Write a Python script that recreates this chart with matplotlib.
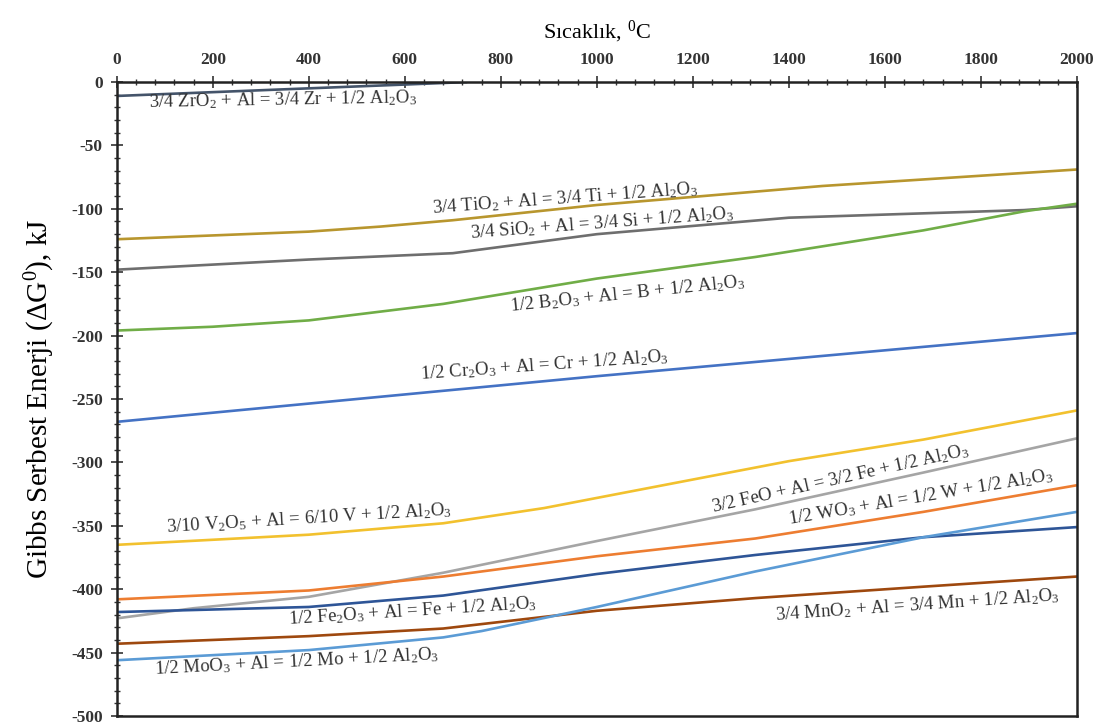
import matplotlib
matplotlib.use("Agg")
import matplotlib.pyplot as plt

plt.rcParams['font.family'] = ['Liberation Serif', 'DejaVu Serif']
plt.rcParams['mathtext.fontset'] = 'custom'
plt.rcParams['mathtext.rm'] = 'Liberation Serif'
plt.rcParams['mathtext.it'] = 'Liberation Serif:italic'
plt.rcParams['axes.unicode_minus'] = False

# Temperature (°C) / Gibbs free energy (kJ) per reaction
zr_T = [0, 200, 400, 600, 730]
zr_G = [-11, -8, -5, -2, 0]
ti_T = [0, 400, 550, 700, 1000, 1470, 2000]
ti_G = [-124, -118, -114, -109, -97, -82, -69]
si_T = [0, 400, 700, 1000, 1400, 1890, 2000]
si_G = [-148, -140, -135, -120, -107, -101, -98]
b_T = [0, 200, 400, 680, 1000, 1330, 1680, 1890, 2000]
b_G = [-196, -193, -188, -175, -155, -138, -117, -102, -96]
cr_T = [0, 500, 1000, 1500, 2000]
cr_G = [-268, -250, -232, -215, -198]
v_T = [0, 400, 680, 890, 1000, 1400, 1680, 2000]
v_G = [-365, -357, -348, -336, -328, -299, -282, -259]
feo_T = [0, 160, 400, 680, 1000, 1330, 1680, 2000]
feo_G = [-423, -415, -406, -387, -362, -337, -308, -281]
w_T = [0, 400, 680, 1000, 1330, 1680, 2000]
w_G = [-408, -401, -390, -374, -360, -339, -318]
fe2_T = [0, 400, 680, 1000, 1330, 1680, 2000]
fe2_G = [-418, -414, -405, -388, -373, -359, -351]
mn_T = [0, 400, 680, 1000, 1330, 1680, 2000]
mn_G = [-443, -437, -431, -417, -407, -398, -390]
mo_T = [0, 400, 680, 760, 1000, 1330, 1680, 2000]
mo_G = [-456, -448, -438, -433, -414, -386, -359, -339]

x_ticks = list(range(0, 2001, 200))
y_ticks = list(range(-500, 1, 50))

series = [
    (zr_T, zr_G, '#44546a', r'3/4 ZrO$_2$ + Al = 3/4 Zr + 1/2 Al$_2$O$_3$', 346, -14, 1),
    (ti_T, ti_G, '#b8962e', r'3/4 TiO$_2$ + Al = 3/4 Ti + 1/2 Al$_2$O$_3$', 933, -91.5, 4.2),
    (si_T, si_G, '#6e6e6e', r'3/4 SiO$_2$ + Al = 3/4 Si + 1/2 Al$_2$O$_3$', 1010, -111.5, 4.3),
    (b_T, b_G, '#70ad47', r'1/2 B$_2$O$_3$ + Al = B + 1/2 Al$_2$O$_3$', 1063, -167, 6),
    (cr_T, cr_G, '#4472c4', r'1/2 Cr$_2$O$_3$ + Al = Cr + 1/2 Al$_2$O$_3$', 890, -223, 4.1),
    (v_T, v_G, '#f2c12e', r'3/10 V$_2$O$_5$ + Al = 6/10 V + 1/2 Al$_2$O$_3$', 400, -344, 3.5),
    (feo_T, feo_G, '#a5a5a5', r'3/2 FeO + Al = 3/2 Fe + 1/2 Al$_2$O$_3$', 1506, -313, 12.6),
    (w_T, w_G, '#ed7d31', r'1/2 WO$_3$ + Al = 1/2 W + 1/2 Al$_2$O$_3$', 1675, -327, 9.5),
    (fe2_T, fe2_G, '#2e5597', r'1/2 Fe$_2$O$_3$ + Al = Fe + 1/2 Al$_2$O$_3$', 617, -417, 3.7),
    (mn_T, mn_G, '#9e480e', r'3/4 MnO$_2$ + Al = 3/4 Mn + 1/2 Al$_2$O$_3$', 1667, -413, 4),
    (mo_T, mo_G, '#5b9bd5', r'1/2 MoO$_3$ + Al = 1/2 Mo + 1/2 Al$_2$O$_3$', 375, -457, 3),
]

fig = plt.figure(figsize=(11.12, 7.27), dpi=100)
ax = fig.add_axes([0.105, 0.0151, 0.8635, 0.8721])

for T, G, c, lab, tx, ty, rot in series:
    ax.plot(T, G, color=c, lw=1.9, solid_capstyle='butt', solid_joinstyle='round')
    ax.text(tx, ty, lab, rotation=rot, rotation_mode='anchor', ha='center', va='center',
            fontsize=13.5, color='#333333')

ax.set_xlim(0, 2000)
ax.set_ylim(-500, 0)
ax.xaxis.tick_top()
ax.xaxis.set_label_position('top')
ax.set_xticks(x_ticks)
ax.set_yticks(y_ticks)
ax.set_xticks(list(range(0, 2001, 40)), minor=True)
ax.set_yticks(list(range(-500, 1, 10)), minor=True)
ax.tick_params(axis='both', which='major', direction='inout', length=8, width=1.2,
               labelsize=12.5, colors='#333333', pad=6)
ax.tick_params(axis='both', which='minor', direction='inout', length=5, width=1, colors='#333333')
for lbl in ax.get_xticklabels() + ax.get_yticklabels():
    lbl.set_fontweight('bold')
ax.set_xlabel('Sıcaklık, $^0$C', fontsize=16, labelpad=10)
ax.set_ylabel(r'Gibbs Serbest Enerji ($\Delta$G$^0$), kJ', fontsize=21, labelpad=10)
for s in ax.spines.values():
    s.set_linewidth(1.8)
    s.set_color('#222222')

fig.savefig('out.png', dpi=100)
